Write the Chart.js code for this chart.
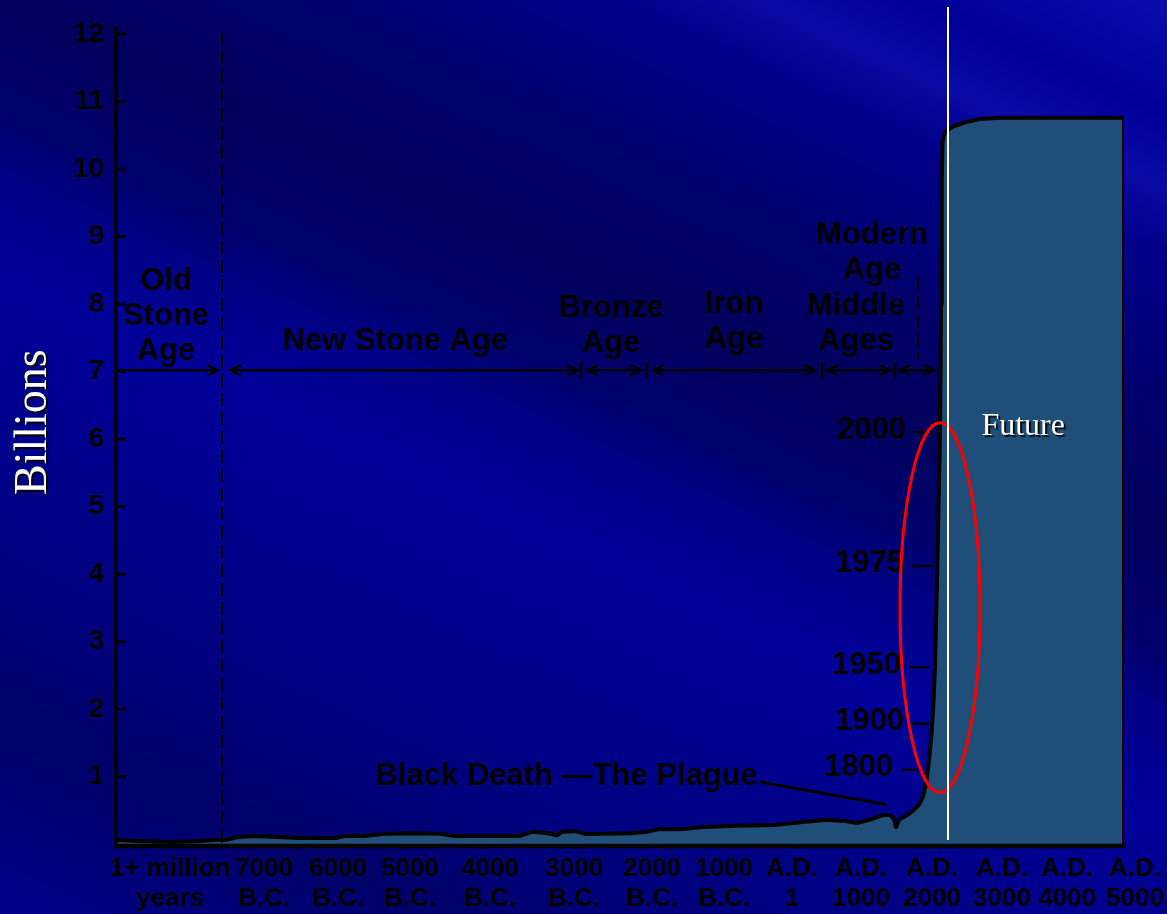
<!DOCTYPE html>
<html>
<head>
<meta charset="utf-8">
<title>World population through history</title>
<script src="https://cdn.jsdelivr.net/npm/chart.js@4.4.1/dist/chart.umd.min.js"></script>
<style>
  html, body { margin: 0; padding: 0; background: #000080; }
  canvas { display: block; }
</style>
</head>
<body>
<canvas id="popChart" width="1167" height="914"></canvas>
<script>
// x is a position along the (non-linear) timeline: 0 = left axis, 100 = right edge
const tickPositions = [5.36, 14.68, 22.02, 29.17, 37.10, 45.44, 53.17, 60.32, 67.06, 73.91, 80.95, 87.90, 94.35, 101.09];
const tickLabels = [
    ['1+ million', 'years'], ['7000', 'B.C.'], ['6000', 'B.C.'], ['5000', 'B.C.'], ['4000', 'B.C.'],
    ['3000', 'B.C.'], ['2000', 'B.C.'], ['1000', 'B.C.'], ['A.D.', '1'], ['A.D.', '1000'],
    ['A.D.', '2000'], ['A.D.', '3000'], ['A.D.', '4000'], ['A.D.', '5000'],
];
const yTicks = [0, 1, 2, 3, 4, 5, 6, 7, 8, 9, 10, 11, 12];

// population curve (billions)
const curvePositions = [
    0, 2.88, 5.56, 7.84, 9.72, 10.81, 12.0, 13.79, 18.25, 21.92, 22.72, 24.60, 26.69, 29.86,
    32.14, 33.63, 37.10, 40.08, 41.27, 42.86, 43.75, 44.25, 45.54, 46.53, 48.02, 51.0, 52.68,
    53.87, 55.95, 58.33, 61.41, 65.38, 68.35, 70.54, 72.32, 73.51, 75.0, 76.09, 76.79, 77.18,
    77.38, 77.68, 78.27, 79.07, 79.66, 80.06, 80.36, 80.58, 80.75, 80.92, 81.10, 81.25, 81.48,
    81.75, 81.85, 81.92, 81.99, 82.24, 83.04, 84.42, 85.71, 87.70, 100, 100,
];
const populationBillions = [
    0.06, 0.04, 0.03, 0.04, 0.06, 0.06, 0.10, 0.12, 0.09, 0.09, 0.12, 0.12, 0.15, 0.16,
    0.15, 0.12, 0.12, 0.12, 0.18, 0.16, 0.13, 0.18, 0.19, 0.15, 0.15, 0.16, 0.18,
    0.22, 0.22, 0.25, 0.27, 0.28, 0.33, 0.36, 0.34, 0.31, 0.37, 0.43, 0.43, 0.37,
    0.25, 0.36, 0.41, 0.49, 0.58, 0.70, 0.90, 1.14, 1.38, 1.64, 2.10, 2.62, 4.10,
    6.09, 8.0, 9.8, 10.4, 10.55, 10.63, 10.70, 10.74, 10.76, 10.76, 0,
];

// eras drawn as arrows along the 7 billion line
const eraNames = [['Old', 'Stone', 'Age'], ['New Stone Age'], ['Bronze', 'Age'], ['Iron', 'Age'], ['Middle', 'Ages'], ['Modern', 'Age']];
const eraLabelPos = [4.96, 27.7, 49.1, 61.3, 73.4, 75.0];
const eraLabelLevel = [7.29, 7.45, 7.42, 7.47, 7.44, 8.50];
const eraStart = [0, 11.31, 46.73, 53.27, 70.54, 77.68];
const eraEnd = [10.12, 45.83, 52.08, 69.35, 76.79, 81.15];
const eraDividers = [46.13, 52.68, 70.04, 77.28];
const eraLevel = 7.02;

const yearMarks = ['1800', '1900', '1950', '1975', '2000'];
const yearLevels = [1.10, 1.78, 2.62, 4.12, 6.10];
const yearDashFrom = [77.88, 78.97, 78.67, 78.97, 79.17];
const yearDashTo = [79.56, 80.65, 80.65, 81.15, 80.95];

const BOLD = '"Liberation Sans", Arial, sans-serif';
const SERIF = '"Liberation Serif", "Times New Roman", serif';

const backdrop = {
    id: 'backdrop',
    beforeDraw(chart) {
        const { ctx, width, height } = chart;
        // streaks run about 25 degrees down to the right, gradient goes across them
        const g = ctx.createLinearGradient(205, -445, -349, 755);
        g.addColorStop(0.00, '#0c0cae');
        g.addColorStop(0.08, '#000098');
        g.addColorStop(0.13, '#0a0aa6');
        g.addColorStop(0.18, '#000088');
        g.addColorStop(0.27, '#000070');
        g.addColorStop(0.37, '#00005c');
        g.addColorStop(0.45, '#00006e');
        g.addColorStop(0.50, '#000088');
        g.addColorStop(0.56, '#00009a');
        g.addColorStop(0.63, '#000090');
        g.addColorStop(0.70, '#000086');
        g.addColorStop(0.78, '#00007c');
        g.addColorStop(0.86, '#00006a');
        g.addColorStop(0.93, '#000078');
        g.addColorStop(1.00, '#000088');
        ctx.save();
        ctx.fillStyle = g;
        ctx.fillRect(0, 0, width, height);
        ctx.restore();
    },
};

function arrowHead(ctx, x, y, dir) {
    ctx.beginPath();
    ctx.moveTo(x - dir * 11, y - 5);
    ctx.lineTo(x, y);
    ctx.lineTo(x - dir * 11, y + 5);
    ctx.stroke();
}

const annotations = {
    id: 'annotations',
    afterDraw(chart) {
        const { ctx } = chart;
        const xs = chart.scales.x;
        const ys = chart.scales.y;
        const px = (v) => xs.getPixelForValue(v);
        const py = (v) => ys.getPixelForValue(v);
        ctx.save();
        ctx.strokeStyle = '#000';
        ctx.fillStyle = '#000';
        ctx.lineCap = 'butt';

        // axes
        ctx.lineWidth = 3.5;
        ctx.beginPath();
        ctx.moveTo(px(0), py(12.12));
        ctx.lineTo(px(0), py(-0.03));
        ctx.stroke();
        ctx.lineWidth = 4.5;
        ctx.beginPath();
        ctx.moveTo(px(0) - 1.5, py(-0.03));
        ctx.lineTo(px(100) + 2, py(-0.03));
        ctx.stroke();
        ctx.lineWidth = 3;
        yTicks.slice(1).forEach((v) => {
            ctx.beginPath();
            ctx.moveTo(px(0), py(v));
            ctx.lineTo(px(0) + 10, py(v));
            ctx.stroke();
        });

        // dashed dividers
        ctx.lineWidth = 2;
        ctx.setLineDash([13, 6]);
        ctx.beginPath();
        ctx.moveTo(px(10.52), py(12.03));
        ctx.lineTo(px(10.52), py(0.02));
        ctx.moveTo(px(79.56), py(8.4));
        ctx.lineTo(px(79.56), py(7.17));
        ctx.stroke();
        ctx.setLineDash([]);

        // era arrows
        const ay = py(eraLevel);
        ctx.lineWidth = 2.5;
        eraStart.forEach((s, i) => {
            const x0 = px(s), x1 = px(eraEnd[i]);
            ctx.beginPath();
            ctx.moveTo(x0, ay);
            ctx.lineTo(x1, ay);
            ctx.stroke();
            arrowHead(ctx, x1, ay, 1);
            if (i > 0) arrowHead(ctx, x0, ay, -1);
        });
        eraDividers.forEach((d) => {
            ctx.beginPath();
            ctx.moveTo(px(d), ay - 8);
            ctx.lineTo(px(d), ay + 8);
            ctx.stroke();
        });

        ctx.font = `bold 31px ${BOLD}`;
        ctx.textAlign = 'center';
        ctx.textBaseline = 'middle';
        eraNames.forEach((lines, i) => {
            const x = px(eraLabelPos[i]);
            const yLast = py(eraLabelLevel[i]);
            lines.forEach((t, j) => {
                ctx.fillText(t, x, yLast - (lines.length - 1 - j) * 35);
            });
        });

        // Black Death note
        ctx.fillText('Black Death \u2014The Plague', px(44.7), py(1.0));
        ctx.lineWidth = 3;
        ctx.beginPath();
        ctx.moveTo(px(63.89), py(0.92));
        ctx.lineTo(px(76.49), py(0.58));
        ctx.stroke();

        // year marks on the steep rise
        ctx.textAlign = 'right';
        yearMarks.forEach((t, i) => {
            const y = py(yearLevels[i]);
            ctx.fillText(t, px(yearDashFrom[i]) - 8, y - 2);
            ctx.lineWidth = 2.5;
            ctx.beginPath();
            ctx.moveTo(px(yearDashFrom[i]), y);
            ctx.lineTo(px(yearDashTo[i]), y);
            ctx.stroke();
        });

        // red ellipse around the modern explosion
        ctx.strokeStyle = '#ff0000';
        ctx.lineWidth = 3;
        ctx.beginPath();
        ctx.ellipse(px(81.75), py(3.5), px(81.75) - px(77.78), py(0.76) - py(3.5), 0, 0, Math.PI * 2);
        ctx.stroke();

        // "now" marker
        ctx.strokeStyle = '#ffffff';
        ctx.lineWidth = 2;
        ctx.beginPath();
        ctx.moveTo(px(82.54), py(12.4));
        ctx.lineTo(px(82.54), py(0.06));
        ctx.stroke();

        // white serif labels with shadow
        ctx.shadowColor = 'rgba(0,0,0,0.9)';
        ctx.shadowOffsetX = 2;
        ctx.shadowOffsetY = 2;
        ctx.shadowBlur = 1;
        ctx.fillStyle = '#ffffff';
        ctx.textAlign = 'center';
        ctx.textBaseline = 'alphabetic';
        ctx.font = `32px ${SERIF}`;
        ctx.fillText('Future', px(90.0), py(6.06));

        ctx.translate(46, py(6.25));
        ctx.rotate(-Math.PI / 2);
        ctx.font = `46px ${SERIF}`;
        ctx.fillText('Billions', 0, 0);
        ctx.restore();
    },
};

new Chart(document.getElementById('popChart'), {
    type: 'line',
    data: {
        datasets: [{
            label: 'World population',
            data: curvePositions.map((x, i) => ({ x, y: populationBillions[i] })),
            borderColor: '#000000',
            borderWidth: 4,
            backgroundColor: '#1f4e79',
            fill: 'origin',
            tension: 0,
            pointRadius: 0,
            borderJoinStyle: 'round',
        }],
    },
    options: {
        responsive: false,
        animation: false,
        layout: { padding: { left: 0, right: 43, top: 34, bottom: 0 } },
        plugins: { legend: { display: false }, tooltip: { enabled: false } },
        scales: {
            x: {
                type: 'linear',
                min: 0,
                max: 100,
                grid: { display: false, drawTicks: false },
                border: { display: false },
                afterBuildTicks: (scale) => { scale.ticks = tickPositions.map((v) => ({ value: v })); },
                afterFit: (scale) => { scale.height = 70; scale.paddingLeft = 0; scale.paddingRight = 0; },
                ticks: {
                    autoSkip: false,
                    maxRotation: 0,
                    padding: 10,
                    color: '#000000',
                    font: { family: BOLD, size: 26, weight: 'bold', lineHeight: 1.15 },
                    callback: (v) => tickLabels[tickPositions.indexOf(v)],
                },
            },
            y: {
                min: 0,
                max: 12,
                grid: { display: false, drawTicks: false },
                border: { display: false },
                afterBuildTicks: (scale) => { scale.ticks = yTicks.map((v) => ({ value: v })); },
                afterFit: (scale) => { scale.width = 116; scale.paddingTop = 0; scale.paddingBottom = 0; },
                ticks: {
                    padding: 12,
                    color: '#000000',
                    font: { family: BOLD, size: 28, weight: 'bold' },
                    callback: (v) => (v === 0 ? '' : v),
                },
            },
        },
    },
    plugins: [backdrop, annotations],
});
</script>
</body>
</html>
